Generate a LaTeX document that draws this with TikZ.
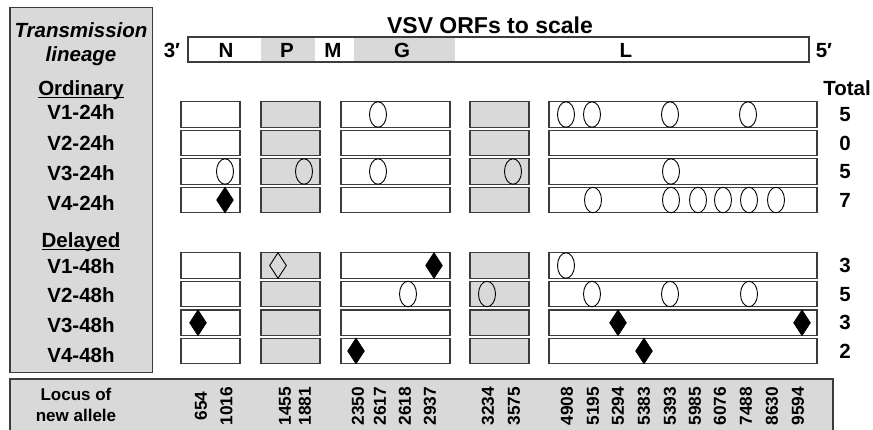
\documentclass[tikz,border=0pt]{standalone}
\usepackage{fontspec}
\setmainfont{Liberation Sans}
\usetikzlibrary{shapes.geometric}
\definecolor{boxgray}{RGB}{217,217,217}
\definecolor{edgec}{RGB}{60,60,60}
\begin{document}
\begin{tikzpicture}[x=1pt,y=-1pt,
  txt/.style={inner sep=0pt, outer sep=0pt, anchor=base, text=black, font=\fontsize{20.5}{24}\selectfont\bfseries},
  itxt/.style={txt, font=\fontsize{20.5}{24}\selectfont\bfseries\itshape},
  htxt/.style={txt, font=\fontsize{23}{27}\selectfont\bfseries},
  stxt/.style={txt, font=\fontsize{17}{20}\selectfont\bfseries},
  numlbl/.style={inner sep=0pt, outer sep=0pt, rotate=90, anchor=center, font=\fontsize{17.3}{20}\selectfont\bfseries},
  panel/.style={draw=edgec, line width=1.3pt, fill=boxgray, inner sep=0pt, outer sep=0pt, anchor=north west},
  seg/.style={inner sep=0pt, outer sep=0pt, minimum height=25pt, anchor=west},
  wbox/.style={draw=edgec, line width=1.3pt, fill=white, inner sep=0pt, minimum height=25.5pt},
  gbox/.style={wbox, fill=boxgray},
  ovalmark/.style={ellipse, draw=black, line width=0.9pt, inner sep=0pt, minimum width=17pt, minimum height=25.5pt},
  fdia/.style={diamond, fill=black, draw=black, line width=0.6pt, inner sep=0pt, minimum width=17pt, minimum height=26pt},
  odia/.style={diamond, draw=black, line width=0.9pt, inner sep=0pt, minimum width=17pt, minimum height=26pt},
  uline/.style={line width=1.4pt, black}
]
\useasboundingbox (0,0) rectangle (873,429);

% left panel and bottom panel
\node[panel, minimum width=142.7pt, minimum height=365.4pt] (lpanel) at (10,7.3) {};
\node[panel, minimum width=823pt, minimum height=70pt] (bpanel) at (10,379) {};

% left panel labels
\node[itxt] (ltr) at (81,37.5) {Transmission};
\node[itxt] (lli) at (81,61) {lineage};
\node[txt] (lord) at (81,95) {Ordinary};
\draw[uline] ([yshift=-2.6pt]lord.base west) -- ([yshift=-2.6pt]lord.base east);
\foreach \n/\yy in {1/119,2/150.5,3/180.5,4/210.5}
  \node[txt] (lo\n) at (81,\yy) {V\n-24h};
\node[txt] (ldel) at (81,247) {Delayed};
\draw[uline] ([yshift=-2.6pt]ldel.base west) -- ([yshift=-2.6pt]ldel.base east);
\foreach \n/\yy in {1/273,2/302.5,3/332.5,4/362.5}
  \node[txt] (ld\n) at (81,\yy) {V\n-48h};

% header
\node[htxt] (title) at (490,33) {VSV ORFs to scale};
\node[seg, fill=white, minimum width=73pt] (sN) at (188,49.5) {};
\node[seg, fill=boxgray, minimum width=54pt] (sP) at (261,49.5) {};
\node[seg, fill=white, minimum width=39pt] (sM) at (315,49.5) {};
\node[seg, fill=boxgray, minimum width=101pt] (sG) at (354,49.5) {};
\node[seg, fill=white, minimum width=354pt] (sL) at (455,49.5) {};
\draw[edgec, line width=1.3pt] (sN.north west) rectangle (sL.south east);
\node[txt] (hN) at (226,57) {N};
\node[txt] (hP) at (287,57) {P};
\node[txt] (hM) at (333,57) {M};
\node[txt] (hG) at (402,57) {G};
\node[txt] (hL) at (626,57) {L};
\node[txt] (h3) at (172,57) {3′};
\node[txt] (h5) at (824,57) {5′};
\node[txt] (htot) at (847,95) {Total};

% row boxes
\foreach \r/\yy in {1/114.5,2/143,3/171.5,4/200,5/265.5,6/294,7/322.8,8/351} {
  \node[wbox, minimum width=59pt] (r\r-a) at (210.5,\yy) {};
  \node[gbox, minimum width=59pt] (r\r-b) at (290.5,\yy) {};
  \node[wbox, minimum width=109pt] (r\r-c) at (395.5,\yy) {};
  \node[gbox, minimum width=59pt] (r\r-d) at (499.5,\yy) {};
  \node[wbox, minimum width=268pt] (r\r-e) at (683,\yy) {};
}

% markers
\foreach \x/\yy [count=\i] in {378/114.5,566/114.5,592/114.5,670/114.5,748/114.5,
  225/171.5,304/171.5,378/171.5,513/171.5,671/171.5,
  593/200,671/200,698/200,723/200,749/200,776/200,
  566/265.5,
  408/294,487/294,592/294,670/294,749/294}
  \node[ovalmark] (e\i) at (\x,\yy) {};
\foreach \x/\yy [count=\i] in {225/200,434/265.5,198/322.8,618/322.8,802/322.8,356/351,644/351}
  \node[fdia] (fd\i) at (\x,\yy) {};
\node[odia] (od1) at (278,265.5) {};

% totals
\foreach \v/\yy [count=\i] in {5/114.5,0/143,5/171.5,7/200,3/265.5,5/294,3/322.8,2/351}
  \node[txt] (tot\i) at (845,\yy+7) {\v};

% bottom labels
\node[stxt] (loc1) at (76,400.5) {Locus of};
\node[stxt] (loc2) at (76,421.5) {new allele};
\foreach \x/\t [count=\i] in {201/654,226.5/1016,285/1455,305/1881,358/2350,380/2617,405/2618,430/2937,
  488/3234,514/3575,567/4908,593/5195,618/5294,644/5383,670/5393,695/5985,720/6076,746/7488,772/8630,798/9594}
  \node[numlbl] (n\i) at (\x,406) {\t};
\end{tikzpicture}
\end{document}
